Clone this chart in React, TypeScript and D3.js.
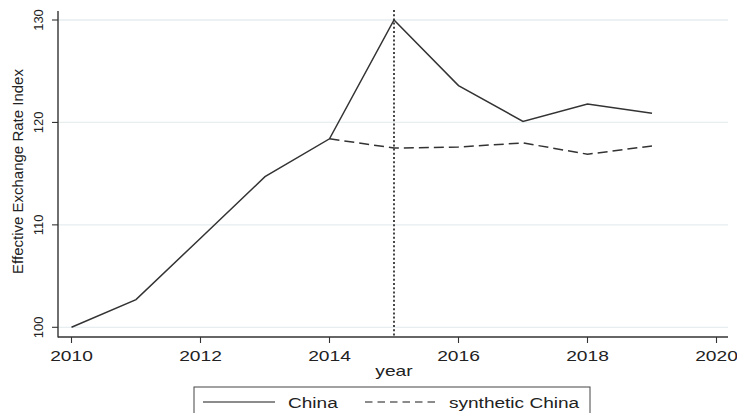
import React from "react";
import * as d3 from "d3";

const years = [2010, 2011, 2012, 2013, 2014, 2015, 2016, 2017, 2018, 2019];
const china = [100, 102.7, 108.7, 114.7, 118.4, 130.0, 123.6, 120.1, 121.8, 120.9];
const synthYears = [2014, 2015, 2016, 2017, 2018, 2019];
const synthetic = [118.4, 117.5, 117.6, 118.0, 116.9, 117.7];
const xTicks = [2010, 2012, 2014, 2016, 2018, 2020];
const yTicks = [100, 110, 120, 130];
const treatYear = 2015;

const FONT = "'Liberation Sans', Arial, sans-serif";
const SX = 1.28;
const SXL = 1.36;

export default function App() {
  const W = 737, H = 413;
  const x = d3.scaleLinear().domain([2010, 2020]).range([71.5, 716.5]);
  const y = d3.scaleLinear().domain([100, 130]).range([327.3, 20]);
  const line = d3.line<[number, number]>().x(d => x(d[0])).y(d => y(d[1]));
  const chinaPts: [number, number][] = years.map((yr, i) => [yr, china[i]]);
  const synthPts: [number, number][] = synthYears.map((yr, i) => [yr, synthetic[i]]);
  const axisColor = "#333";
  const txt = "#222";
  return (
    <svg width={W} height={H} style={{ position: "absolute", left: 0, top: 0, background: "#fff" }}>
      <rect x={0} y={0} width={W} height={H} fill="#fff" />
      {yTicks.map(t => (
        <line key={"g" + t} x1={58} x2={728} y1={y(t)} y2={y(t)} stroke="#e6eef0" strokeWidth={1.3} />
      ))}
      {/* axes */}
      <line x1={58} x2={58} y1={11} y2={337.5} stroke={axisColor} strokeWidth={1.4} />
      <line x1={58} x2={728} y1={337} y2={337} stroke={axisColor} strokeWidth={1.4} />
      {yTicks.map(t => (
        <g key={"y" + t}>
          <line x1={52} x2={58} y1={y(t)} y2={y(t)} stroke={axisColor} strokeWidth={1.1} />
          <text transform={`translate(43,${y(t)}) rotate(-90)`} textAnchor="middle" fontFamily={FONT} fontSize={13} fill={txt}>{t}</text>
        </g>
      ))}
      {xTicks.map(t => (
        <g key={"x" + t}>
          <line x1={x(t)} x2={x(t)} y1={337} y2={343} stroke={axisColor} strokeWidth={1.1} />
          <text transform={`translate(${x(t)},361) scale(${SX},1)`} textAnchor="middle" fontFamily={FONT} fontSize={15} fill={txt}>{t}</text>
        </g>
      ))}
      <text transform={`translate(394,376) scale(${SX},1)`} textAnchor="middle" fontFamily={FONT} fontSize={15} fill={txt}>year</text>
      <text transform={`translate(23,171.5) rotate(-90)`} textAnchor="middle" fontFamily={FONT} fontSize={15} fill={txt}>Effective Exchange Rate Index</text>
      {/* vertical treatment line */}
      <line x1={x(treatYear)} x2={x(treatYear)} y1={10} y2={337} stroke="#333" strokeWidth={1.8} strokeDasharray="2,2.2" />
      <path d={line(synthPts) || ""} fill="none" stroke="#333" strokeWidth={1.5} strokeDasharray="10,5" />
      <path d={line(chinaPts) || ""} fill="none" stroke="#333" strokeWidth={1.5} />
      {/* legend */}
      <rect x={194} y={387} width={396} height={40} fill="#fff" stroke="#444" strokeWidth={1} />
      <line x1={203} x2={275} y1={402} y2={402} stroke="#666" strokeWidth={1.5} />
      <text transform={`translate(288,407.5) scale(${SXL},1)`} fontFamily={FONT} fontSize={14} fill={txt}>China</text>
      <line x1={365} x2={438} y1={402} y2={402} stroke="#666" strokeWidth={1.5} strokeDasharray="7.5,5" />
      <text transform={`translate(449,407.5) scale(${SXL},1)`} fontFamily={FONT} fontSize={14} fill={txt}>synthetic China</text>
    </svg>
  );
}
